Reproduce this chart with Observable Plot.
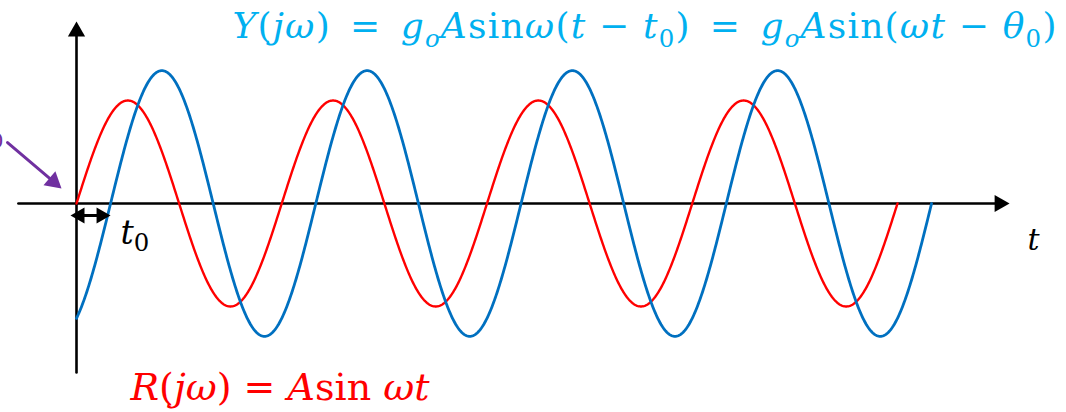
<!DOCTYPE html>
<html>
<head>
<meta charset="utf-8">
<script src="https://cdn.jsdelivr.net/npm/d3@7"></script>
<script src="https://cdn.jsdelivr.net/npm/@observablehq/plot@0.6"></script>
<style>
  html, body { margin: 0; padding: 0; background: #ffffff; }
  #chart svg { display: block; }
</style>
</head>
<body>
<div id="chart"></div>
<script>
// Sinusoidal input R = A sin ωt and the delayed, amplified output Y = g_o A sin ω(t − t0).
// Time is measured in periods of the input (ω = 2π per unit).
const curveNames  = ["R(jω)", "Y(jω)"];
const curveColors = ["#ff0000", "#0070c0"];
const curveWidths = [2.4, 2.8];
const amplitudes  = [1, 1.29];    // A and g_o·A
const delays      = [0, 0.166];   // 0 and t0
const cycles      = [4, 4];       // periods drawn for each curve

// Axis extents (time, amplitude)
const timeAxisSpan = [-0.283, 4.546];
const ampAxisSpan  = [-1.64, 1.767];

// Pointer drawn in purple toward the origin
const pointerFrom = [-0.336, 0.592];
const pointerTo   = [-0.073, 0.146];

// Text, split into runs: "i" italic, "" upright, "s" subscript, "si" italic subscript
const sp = "\u2002"; // en space around the equals signs
const outputFormula = [
  ["Y", "i"], ["(", ""], ["jω", "i"], [`)${sp}=${sp}`, ""], ["g", "i"], ["o", "si"], ["A", "i"],
  ["sin", ""], ["ω", "i"], ["(", ""], ["t", "i"], [" − ", ""], ["t", "i"], ["0", "s"],
  [`)${sp}=${sp}`, ""], ["g", "i"], ["o", "si"], ["A", "i"], ["sin(", ""], ["ωt", "i"],
  [" − ", ""], ["θ", "i"], ["0", "s"], [")", ""]
];
const inputFormula = [["R", "i"], ["(", ""], ["jω", "i"], [") = ", ""], ["A", "i"], ["sin ", ""], ["ωt", "i"]];
const delayLabel  = [["t", "i"], ["0", "s"]];
const timeLabel   = [["t", "i"]];
const pointerLabel = [["θ", "i"], ["0", "s"]];

// Sampled curves
const step = 0.004;
const samples = curveNames.flatMap((name, i) => {
  const end = cycles[i] + delays[i];
  const ts = d3.range(0, end, step).concat([end]);
  return ts.map(t => ({name, t, v: amplitudes[i] * Math.sin(2 * Math.PI * (t - delays[i]))}));
});

const W = 1066, H = 412;
const mathFont = "DejaVu Serif";

// Filled triangular arrowhead; tipDist gives the distance from the symbol centre to its tip
const tipDist = r => 2 * Math.sqrt(Math.PI * r * r / (3 * Math.sqrt(3)));
function head(x, y, angle, r, color, extra = {}) {
  // angle: direction the head points, degrees clockwise from east
  const d = tipDist(r), a = angle * Math.PI / 180;
  return Plot.dot([[x, y]], {
    x: d => d[0], y: d => d[1], symbol: "triangle", r, fill: color, stroke: "none",
    rotate: angle + 90,
    dx: (extra.dx || 0) - d * Math.cos(a),
    dy: (extra.dy || 0) - d * Math.sin(a)
  });
}

function label(key, runs, x, y, opts) {
  return Plot.text([runs.map(r => r[0]).join("")], {
    x: () => x, y: () => y, text: d => d, ariaDescription: key,
    textAnchor: "start", lineAnchor: "bottom", fontFamily: mathFont, ...opts
  });
}

const svg = Plot.plot({
  width: W,
  height: H,
  margin: 0,
  x: {domain: [-76 / 205.25, 990 / 205.25], axis: null},
  y: {domain: [-209 / 103, 203 / 103], axis: null},
  marks: [
    // axes
    Plot.arrow([0], {x1: timeAxisSpan[0], y1: 0, x2: timeAxisSpan[1], y2: 0,
      stroke: "#000", strokeWidth: 2.6, headLength: 0, insetEnd: 9}),
    Plot.arrow([0], {x1: 0, y1: ampAxisSpan[0], x2: 0, y2: ampAxisSpan[1],
      stroke: "#000", strokeWidth: 2.6, headLength: 0, insetEnd: 9}),
    head(timeAxisSpan[1], 0, 0, 6.4, "#000"),
    head(0, ampAxisSpan[1], -90, 6.4, "#000"),
    // curves
    ...curveNames.map((name, i) => Plot.line(samples.filter(d => d.name === name), {
      x: "t", y: "v", stroke: curveColors[i], strokeWidth: curveWidths[i], curve: "linear"
    })),
    // delay t0 between the curves
    Plot.arrow([0], {x1: 0, y1: 0, x2: delays[1], y2: 0, dy: 12,
      stroke: "#000", strokeWidth: 3.2, headLength: 0, insetStart: 2, insetEnd: 7}),
    head(0, 0, 180, 6, "#000", {dx: -6, dy: 12}),
    head(delays[1], 0, 0, 6, "#000", {dy: 12}),
    // purple pointer
    Plot.arrow([0], {x1: pointerFrom[0], y1: pointerFrom[1], x2: pointerTo[0], y2: pointerTo[1],
      stroke: "#7030a0", strokeWidth: 3, headLength: 0, insetEnd: 9}),
    head(pointerTo[0], pointerTo[1], 40.4, 6.8, "#7030a0"),
    // text
    label("outputFormula", outputFormula, 0.76, 1.602, {fill: "#00b0f0", fontSize: 36}),
    label("inputFormula", inputFormula, 0.263, -1.903, {fill: "#ff0000", fontSize: 38}),
    label("delayLabel", delayLabel, delays[1], 0, {fill: "#000", fontSize: 33, dx: 10, dy: 40}),
    label("timeLabel", timeLabel, timeAxisSpan[1], 0, {fill: "#000", fontSize: 30, dx: 18, dy: 46}),
    label("pointerLabel", pointerLabel, pointerFrom[0], pointerFrom[1],
      {fill: "#7030a0", fontSize: 30, textAnchor: "end", dx: -4, dy: -2})
  ]
});

// Rebuild each label as styled runs (italic symbols, upright functions, subscripts)
function typeset(key, runs, size, subScale = 0.68, tracking = 0) {
  const text = d3.select(svg).select(`g[aria-description="${key}"] text`);
  text.text(null);
  if (tracking) text.attr("letter-spacing", tracking);
  const shift = size * 0.24;
  let lowered = false;
  for (const [s, style] of runs) {
    const sub = style.includes("s");
    const ts = text.append("tspan").text(s)
      .attr("font-style", style.includes("i") ? "italic" : "normal");
    if (sub) {
      ts.attr("font-size", size * subScale);
      if (!lowered) ts.attr("dy", shift);
    } else if (lowered) {
      ts.attr("dy", -shift);
    }
    lowered = sub;
  }
}
typeset("outputFormula", outputFormula, 36, 0.68, 1.2);
typeset("inputFormula", inputFormula, 38);
typeset("delayLabel", delayLabel, 33, 0.74);
typeset("timeLabel", timeLabel, 30);
typeset("pointerLabel", pointerLabel, 30);

document.getElementById("chart").append(svg);
</script>
</body>
</html>
